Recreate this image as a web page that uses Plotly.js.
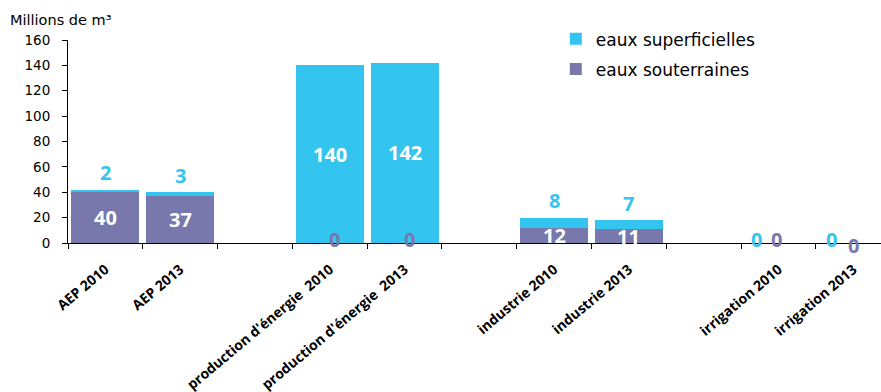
<!DOCTYPE html>
<html>
<head>
<meta charset="utf-8">
<script src="https://cdn.plot.ly/plotly-3.0.1.min.js"></script>
<style>html,body{margin:0;padding:0;background:#fff;}#chart{width:881px;height:392px;}</style>
</head>
<body>
<div id="chart"></div>
<script>
const categories = ['AEP 2010', 'AEP 2013', ' ', "production d'énergie\u00a0 2010", "production d'énergie\u00a0 2013", '  ', 'industrie 2010', 'industrie 2013', '   ', 'irrigation 2010', 'irrigation 2013'];
const souterraines = [40, 37, null, 0, 0, null, 12, 11, null, 0, 0];
const superficielles = [2, 3, null, 140, 142, null, 8, 7, null, 0, 0];
const seriesNames = ['eaux souterraines', 'eaux superficielles'];
const yTicks = [0, 20, 40, 60, 80, 100, 120, 140, 160];

const CYAN = '#34C4F0';
const PURPLE = '#7878AC';
const LABEL_FONT = 'Open Sans, Liberation Sans, sans-serif';
const TEXT_FONT = 'DejaVu Sans, sans-serif';
const LSIZE = 20;

const traces = [
  { type: 'bar', name: seriesNames[0], x: categories, y: souterraines, legendgroup: 'g1', legendrank: 2,
    marker: { color: PURPLE }, hoverinfo: 'none' },
  { type: 'bar', name: seriesNames[1], x: categories, y: superficielles, legendgroup: 'g2', legendrank: 1,
    marker: { color: CYAN }, hoverinfo: 'none' }
];

const annotations = [];
categories.forEach((c, i) => {
  const s = souterraines[i], f = superficielles[i];
  if (s === null || f === null) return;
  // groundwater labels
  if (s > 0) {
    annotations.push({ x: c, y: s / 2, text: String(s), showarrow: false, yanchor: 'middle',
      font: { family: LABEL_FONT, size: LSIZE, color: '#ffffff', weight: 'bold' } });
  } else {
    const last = i === categories.length - 1;
    annotations.push({ x: c, y: 0, text: String(s), showarrow: false, yanchor: 'middle',
      xshift: f > 0 ? 5 : (last ? 0 : -2), yshift: last ? -2 : 4,
      font: { family: LABEL_FONT, size: LSIZE, color: PURPLE, weight: 'bold' } });
  }
  // surface water labels
  if (f >= 50) {
    annotations.push({ x: c, y: s + f / 2, text: String(f), showarrow: false, yanchor: 'middle',
      font: { family: LABEL_FONT, size: LSIZE, color: '#ffffff', weight: 'bold' } });
  } else if (f > 0) {
    annotations.push({ x: c, y: s + f, text: String(f), showarrow: false, yanchor: 'middle', yshift: 17,
      font: { family: LABEL_FONT, size: LSIZE, color: CYAN, weight: 'bold' } });
  } else {
    annotations.push({ x: c, y: 0, text: String(f), showarrow: false, yanchor: 'middle', yshift: 4, xshift: -22,
      font: { family: LABEL_FONT, size: LSIZE, color: CYAN, weight: 'bold' } });
  }
});

const layout = {
  width: 881, height: 392,
  margin: { l: 68, r: 0, t: 40, b: 149 },
  paper_bgcolor: '#ffffff', plot_bgcolor: '#ffffff',
  barmode: 'stack', bargap: 0.09,
  title: { text: 'Millions de m³', x: 10 / 881, xanchor: 'left', xref: 'container',
    y: 1 - 20 / 392, yanchor: 'middle', yref: 'container',
    font: { family: TEXT_FONT, size: 14.5, color: '#000' } },
  xaxis: {
    type: 'category', categoryorder: 'array', categoryarray: categories,
    range: [-0.5, 10.37], fixedrange: true,
    showline: true, linecolor: '#000', linewidth: 1,
    ticks: 'outside', ticklen: 5, tickcolor: '#000', tickson: 'boundaries',
    tickangle: -40, automargin: false, showgrid: false, zeroline: false,
    ticklabelstandoff: 12,
    tickfont: { family: LABEL_FONT, size: 14, color: '#000', weight: 'bold' }
  },
  yaxis: {
    range: [0, 160], tickvals: yTicks, fixedrange: true,
    showline: true, linecolor: '#000', linewidth: 1,
    ticks: 'outside', ticklen: 5, tickcolor: '#000',
    showgrid: false, zeroline: false, automargin: false,
    ticklabelstandoff: 9,
    tickfont: { family: TEXT_FONT, size: 13.5, color: '#000' }
  },
  legend: {
    x: 0.600, xanchor: 'left', y: 1.092, yanchor: 'top',
    traceorder: 'grouped', tracegroupgap: 5, bgcolor: 'rgba(0,0,0,0)',
    font: { family: TEXT_FONT, size: 17, color: '#000' },
    itemwidth: 30
  },
  annotations: annotations,
  showlegend: true
};

Plotly.newPlot('chart', traces, layout, { staticPlot: true, displayModeBar: false });
</script>
</body>
</html>
